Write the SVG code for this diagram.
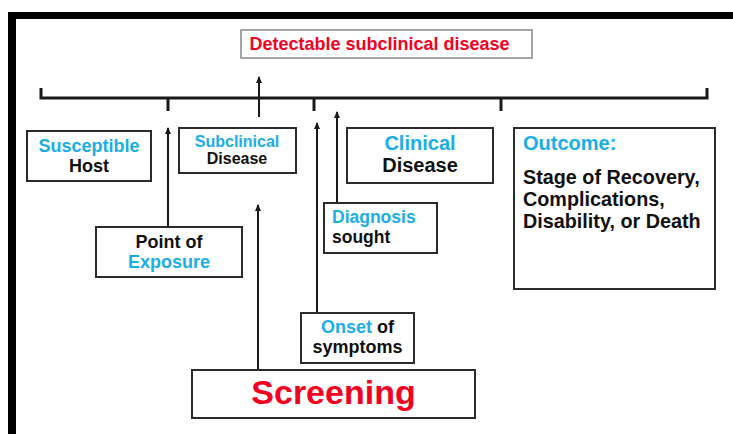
<svg xmlns="http://www.w3.org/2000/svg" width="733" height="434" viewBox="0 0 733 434">
<style>
text{font-family:"Liberation Sans",Arial,sans-serif;font-weight:bold;}
.box{fill:#fff;stroke:#2b2b2b;stroke-width:2;}
.c{fill:#1aaee8;}
.k{fill:#111;}
.r{fill:#f5001f;}
.ln{stroke:#1a1a1a;stroke-width:2;fill:none;}
.tl{stroke:#1a1a1a;stroke-width:3;fill:none;}
</style>
<defs>
<marker id="ah" markerWidth="7" markerHeight="6" refX="6" refY="3" orient="auto" markerUnits="userSpaceOnUse" viewBox="0 0 7 6">
<path d="M0,0 L7,3 L0,6 Z" fill="#1a1a1a"/>
</marker>
</defs>
<rect width="733" height="434" fill="#fff"/>
<rect x="8" y="12" width="725" height="7" fill="#000"/>
<rect x="8" y="12" width="8" height="422" fill="#000"/>

<g id="timeline">
<path class="tl" d="M41,88 V98 H707 V88"/>
<path class="tl" d="M168,98 V111 M314,98 V111 M501,98 V111"/>
</g>

<g id="connectors">
<line class="ln" x1="259" y1="117" x2="259" y2="77" marker-end="url(#ah)"/>
<line class="ln" x1="168" y1="228" x2="168" y2="128" marker-end="url(#ah)"/>
<line class="ln" x1="258" y1="370" x2="258" y2="205" marker-end="url(#ah)"/>
<line class="ln" x1="317" y1="313" x2="317" y2="123" marker-end="url(#ah)"/>
<line class="ln" x1="337" y1="203" x2="337" y2="112" marker-end="url(#ah)"/>
</g>

<g id="detectable">
<rect x="241" y="30" width="291" height="28" fill="#fff" stroke="#888" stroke-width="1.5"/>
<text x="379.5" y="50" font-size="18" text-anchor="middle" class="r">Detectable subclinical disease</text>
</g>

<g id="susceptible">
<rect class="box" x="27" y="131" width="124" height="50"/>
<text x="89" y="152" font-size="18" text-anchor="middle" class="c">Susceptible</text>
<text x="89" y="172" font-size="18" text-anchor="middle" class="k">Host</text>
</g>

<g id="subclinical">
<rect class="box" x="179" y="128" width="117" height="45"/>
<text x="237" y="147" font-size="16" text-anchor="middle" class="c">Subclinical</text>
<text x="237" y="164" font-size="16" text-anchor="middle" class="k">Disease</text>
</g>

<g id="clinical">
<rect class="box" x="347" y="128" width="146" height="55"/>
<text x="420" y="150" font-size="20" text-anchor="middle" class="c">Clinical</text>
<text x="420" y="172" font-size="20" text-anchor="middle" class="k">Disease</text>
</g>

<g id="outcome">
<rect class="box" x="514" y="128" width="201" height="161"/>
<text x="523" y="150" font-size="20" class="c">Outcome:</text>
<text x="523" y="184" font-size="19.8" class="k">Stage of Recovery,</text>
<text x="523" y="206" font-size="19.8" class="k">Complications,</text>
<text x="523" y="228" font-size="19.8" class="k">Disability, or Death</text>
</g>

<g id="exposure">
<rect class="box" x="96" y="227" width="146" height="50"/>
<text x="169" y="248" font-size="18" text-anchor="middle" class="k">Point of</text>
<text x="169" y="268" font-size="18" text-anchor="middle" class="c">Exposure</text>
</g>

<g id="diagnosis">
<rect class="box" x="324" y="203" width="113" height="50"/>
<text x="332" y="223" font-size="17.5" class="c">Diagnosis</text>
<text x="332" y="243" font-size="17.5" class="k">sought</text>
</g>

<g id="onset">
<rect class="box" x="301" y="313" width="113" height="50"/>
<text x="357.5" y="333" font-size="18" text-anchor="middle"><tspan class="c">Onset</tspan><tspan class="k"> of</tspan></text>
<text x="357.5" y="353" font-size="18" text-anchor="middle" class="k">symptoms</text>
</g>

<g id="screening">
<rect class="box" x="192" y="370" width="283" height="48"/>
<text x="333.5" y="404" font-size="34" text-anchor="middle" class="r">Screening</text>
</g>
</svg>
